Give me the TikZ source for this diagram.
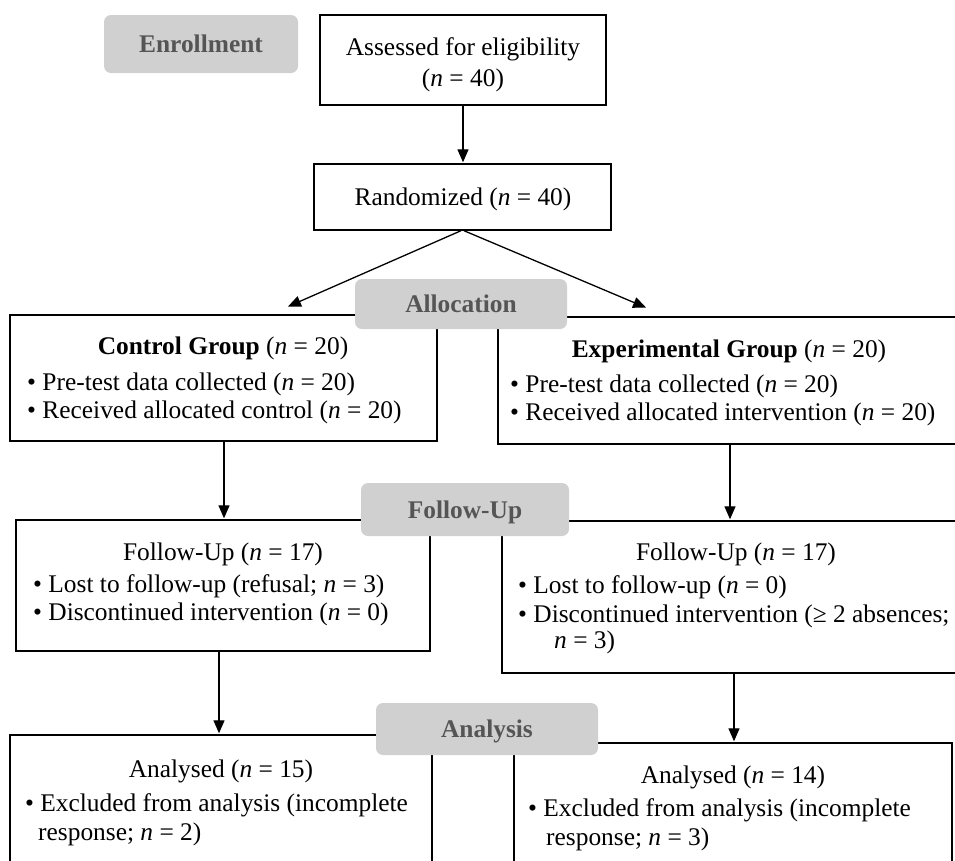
\documentclass[tikz,border=0pt]{standalone}
\usepackage{fontspec}
\setmainfont{Liberation Serif}
\usetikzlibrary{arrows.meta}
\definecolor{labgray}{RGB}{208,208,208}
\definecolor{labtext}{RGB}{85,85,85}
\newcommand\dgfont{\fontsize{25.4pt}{30pt}\selectfont}
\begin{document}
\begin{tikzpicture}[x=1pt,y=-1pt,
  font=\dgfont,
  box/.style={draw, line width=1.4pt, inner sep=0pt, fill=white},
  lab/.style={fill=labgray, rounded corners=7pt, text=labtext, font=\dgfont\bfseries,
              inner sep=0pt, text height=17pt, text depth=0pt},
  ctxt/.style={inner sep=0pt, anchor=base},
  ltxt/.style={inner sep=0pt, anchor=base west},
  arr/.style={-{Triangle[length=13pt,width=11pt]}, line width=1.3pt, shorten >=1pt}]
\useasboundingbox (0,0) rectangle (955,860);
\clip (0,0) rectangle (955,860);

% boxes
\node[box, minimum width=286pt, minimum height=90pt]  (assess) at (463,60) {};
\node[box, minimum width=297pt, minimum height=66pt]  (rand)   at (462.5,197) {};
\node[box, minimum width=427pt, minimum height=126pt] (ctrl)   at (223.5,378) {};
\node[box, minimum width=462pt, minimum height=127pt] (exp)    at (729,380.5) {};
\node[box, minimum width=414pt, minimum height=131pt] (fl)     at (223,585.5) {};
\node[box, minimum width=467pt, minimum height=152pt] (fr)     at (735.5,597) {};
\node[box, minimum width=422pt, minimum height=165pt] (bl)     at (221,817.5) {};
\node[box, minimum width=438pt, minimum height=157pt] (br)     at (733,821.5) {};

% connectors
\coordinate (la) at (287,307);
\coordinate (ra) at (647,308);
\draw[arr] (assess.south) -- (assess.south |- rand.north);
\draw[arr] ([xshift=-1.5pt]rand.south) -- (la);
\draw[arr] ([xshift=1.5pt]rand.south) -- (ra);
\draw[arr] ([xshift=0.5pt]ctrl.south) -- ([xshift=0.5pt]ctrl.south |- fl.north);
\draw[arr] ([xshift=1pt]exp.south) -- ([xshift=1pt]exp.south |- fr.north);
\draw[arr] ([xshift=-4pt]fl.south) -- ([xshift=-4pt]fl.south |- bl.north);
\draw[arr] ([xshift=-1.5pt]fr.south) -- ([xshift=-1.5pt]fr.south |- br.north);

% stage labels
\node[lab, minimum width=194pt, minimum height=58pt] (lenr) at (201,44) {Enrollment};
\node[lab, minimum width=212pt, minimum height=50pt] (lall) at (461,304) {Allocation};
\node[lab, minimum width=208pt, minimum height=53pt] (lfol) at (465,509.5) {Follow-Up};
\node[lab, minimum width=222pt, minimum height=52pt] (lana) at (487,729) {Analysis};

% texts
\node[ctxt] (a1) at (463,55) {Assessed for eligibility};
\node[ctxt] (a2) at (463,86) {(\textit{n} = 40)};
\node[ctxt] (r1) at (463,205) {Randomized (\textit{n} = 40)};

\node[ctxt] (c1) at (223,354) {\textbf{Control Group} (\textit{n} = 20)};
\node[ltxt] (c2) at (27,390) {• Pre-test data collected (\textit{n} = 20)};
\node[ltxt] (c3) at (27,418) {• Received allocated control (\textit{n} = 20)};

\node[ctxt] (e1) at (729,357) {\textbf{Experimental Group} (\textit{n} = 20)};
\node[ltxt] (e2) at (510,392) {• Pre-test data collected (\textit{n} = 20)};
\node[ltxt] (e3) at (510,420) {• Received allocated intervention (\textit{n} = 20)};

\node[ctxt] (f1) at (223,560) {Follow-Up (\textit{n} = 17)};
\node[ltxt] (f2) at (33,592) {• Lost to follow-up (refusal; \textit{n} = 3)};
\node[ltxt] (f3) at (33,620) {• Discontinued intervention (\textit{n} = 0)};

\node[ctxt] (g1) at (736,560) {Follow-Up (\textit{n} = 17)};
\node[ltxt] (g2) at (518,593) {• Lost to follow-up (\textit{n} = 0)};
\node[ltxt] (g3) at (518,622) {• Discontinued intervention (≥ 2 absences;};
\node[ltxt] (g4) at (554,648) {\textit{n} = 3)};

\node[ctxt] (b1) at (221,777) {Analysed (\textit{n} = 15)};
\node[ltxt] (b2) at (25,811) {• Excluded from analysis (incomplete};
\node[ltxt] (b3) at (38,840) {response; \textit{n} = 2)};

\node[ctxt] (d1) at (733,783) {Analysed (\textit{n} = 14)};
\node[ltxt] (d2) at (528,816) {• Excluded from analysis (incomplete};
\node[ltxt] (d3) at (546,845) {response; \textit{n} = 3)};
\end{tikzpicture}
\end{document}
